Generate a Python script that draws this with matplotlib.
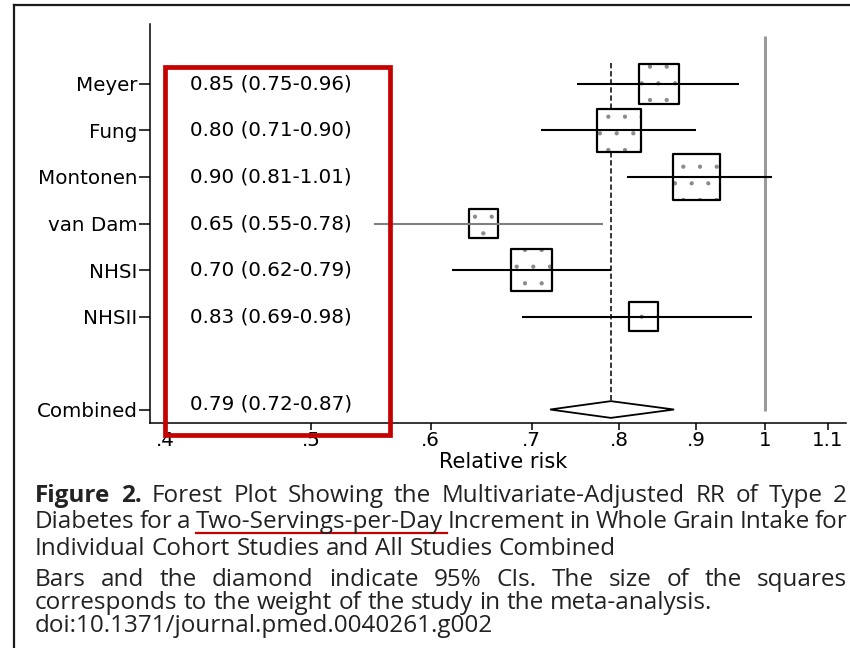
import matplotlib
matplotlib.use("Agg")
import matplotlib.pyplot as plt
from matplotlib.patches import Rectangle, Polygon
from matplotlib.lines import Line2D
from matplotlib.ticker import NullLocator, FixedLocator
import matplotlib.transforms as mtransforms

# ---- data -----------------------------------------------------------------
studies = ["Meyer", "Fung", "Montonen", "van Dam", "NHSI", "NHSII"]
rr = [0.85, 0.80, 0.90, 0.65, 0.70, 0.83]
ci_low = [0.75, 0.71, 0.81, 0.55, 0.62, 0.69]
ci_high = [0.96, 0.90, 1.01, 0.78, 0.79, 0.98]
weights = [17.7, 20.9, 23.9, 9.3, 19.0, 9.3]   # study weight, %

pooled_label = "Combined"
pooled_rr = 0.79
pooled_low = 0.72
pooled_high = 0.87

x_ticks = [0.4, 0.5, 0.6, 0.7, 0.8, 0.9, 1.0, 1.1]
x_tick_labels = [".4", ".5", ".6", ".7", ".8", ".9", "1", "1.1"]
x_label = "Relative risk"

caption_lines = [
    "Figure 2. Forest Plot Showing the Multivariate-Adjusted RR of Type 2",
    "Diabetes for a Two-Servings-per-Day Increment in Whole Grain Intake for",
    "Individual Cohort Studies and All Studies Combined",
    "Bars and the diamond indicate 95% CIs. The size of the squares",
    "corresponds to the weight of the study in the meta-analysis.",
    "doi:10.1371/journal.pmed.0040261.g002",
]
caption_justified = [True, True, False, True, False, False]
bold_words = ["Figure", "2."]
underlined_word = "Two-Servings-per-Day"

# ---- figure ---------------------------------------------------------------
W, H, DPI = 850, 648, 100
plt.rcParams["hatch.linewidth"] = 0.6
fig = plt.figure(figsize=(W / DPI, H / DPI), dpi=DPI)
fig.patch.set_facecolor("white")

def px_x(x):
    return x / W

def px_y(y):
    return 1 - y / H

ax = fig.add_axes([px_x(150), px_y(423), px_x(846) - px_x(150), px_y(24) - px_y(423)])
ax.set_xscale("log")
ax.set_xlim(0.391, 1.131)

rows = list(range(len(studies)))
pooled_row = len(studies) + 1
ax.set_ylim(pooled_row + 0.29, -1.29)

plot_font = "DejaVu Sans"
fs = 14.3

# confidence intervals
ci_colors = ["black", "black", "black", "#808080", "black", "black"]
ax.hlines(rows, ci_low, ci_high, colors=ci_colors, linewidth=1.5, zorder=3)

# weighted squares: stippled fill, then a black outline on top
sizes = [47 * w for w in weights]
ax.scatter(rr, rows, s=sizes, marker="s", facecolor="white",
           edgecolor="#8a8a8a", linewidths=0.0, hatch=".", zorder=2)
ax.scatter(rr, rows, s=sizes, marker="s", facecolor="none",
           edgecolor="black", linewidths=1.6, zorder=2.5)

# pooled diamond
dh = 0.18
diamond = Polygon([(pooled_low, pooled_row), (pooled_rr, pooled_row - dh),
                   (pooled_high, pooled_row), (pooled_rr, pooled_row + dh)],
                  closed=True, facecolor="white", edgecolor="black",
                  linewidth=1.3, zorder=4)
ax.add_patch(diamond)

# reference lines
ax.vlines(pooled_rr, -0.45, pooled_row - dh, colors="black", linewidth=1.1,
          linestyles=(0, (3.5, 1.8)), zorder=1)
ax.vlines(1.0, -1.03, pooled_row + 0.03, colors="#9a9a9a", linewidth=2.2,
          zorder=1)

# estimate text column
blend = mtransforms.blended_transform_factory(ax.transAxes, ax.transData)
for r, v, lo, hi in zip(rows, rr, ci_low, ci_high):
    ax.text(0.0575, r, f"{v:.2f} ({lo:.2f}-{hi:.2f})", transform=blend,
            ha="left", va="center", fontsize=fs, family=plot_font)
ax.text(0.0575, pooled_row - 0.12,
        f"{pooled_rr:.2f} ({pooled_low:.2f}-{pooled_high:.2f})",
        transform=blend, ha="left", va="center", fontsize=fs, family=plot_font)

# axes styling
for side in ("top", "right"):
    ax.spines[side].set_visible(False)
for side in ("left", "bottom"):
    ax.spines[side].set_linewidth(1.1)
ax.xaxis.set_major_locator(FixedLocator(x_ticks))
ax.xaxis.set_minor_locator(NullLocator())
ax.set_xticklabels(x_tick_labels, fontsize=fs, family=plot_font)
ax.set_yticks(rows + [pooled_row])
ax.set_yticklabels(studies + [pooled_label], fontsize=fs, family=plot_font)
ax.tick_params(axis="y", length=8, width=1.1, pad=1)
ax.tick_params(axis="x", length=5, width=1.1, pad=1)
ax.set_xlabel(x_label, fontsize=15, family=plot_font)
ax.xaxis.set_label_coords((503 - 150) / 696, (423 - 462) / 399)
ax.xaxis.label.set_va("center")

# highlight box around the estimate column
fig.add_artist(Rectangle((px_x(165), px_y(435)), px_x(390) - px_x(165),
                         px_y(67) - px_y(435), transform=fig.transFigure,
                         fill=False, edgecolor="#c40000", linewidth=3.4,
                         zorder=10))

# page frame
fig.add_artist(Line2D([px_x(14), px_x(14)], [0, px_y(5)], color="#1a1a1a",
                      linewidth=1.6, transform=fig.transFigure))
fig.add_artist(Line2D([px_x(14), 1], [px_y(5), px_y(5)], color="#1a1a1a",
                      linewidth=1.6, transform=fig.transFigure))

# caption, word by word so lines can be justified
cap_font = "Open Sans"
cap_fs = 17.5
cap_left, cap_right = 35, 847
baselines = [502, 528, 555, 586, 609, 632]

renderer = fig.canvas.get_renderer()

def text_width(s, weight="normal"):
    t = fig.text(0, 0, s, fontsize=cap_fs, family=cap_font, fontweight=weight)
    w = t.get_window_extent(renderer).width
    t.remove()
    return w

space_w = text_width("x x") - text_width("xx")

for i, (line, justify, base) in enumerate(zip(caption_lines, caption_justified, baselines)):
    words = line.split(" ")
    wts = ["bold" if (i == 0 and w in bold_words) else "normal" for w in words]
    widths = [text_width(w, wt) for w, wt in zip(words, wts)]
    if justify and len(words) > 1:
        gap = (cap_right - cap_left - sum(widths)) / (len(words) - 1)
    else:
        gap = space_w
    x = cap_left
    for w, wt, wd in zip(words, wts, widths):
        fig.text(px_x(x), px_y(base), w, fontsize=cap_fs, family=cap_font,
                 fontweight=wt, ha="left", va="baseline", color="#222222")
        if w == underlined_word:
            fig.add_artist(Line2D([px_x(x), px_x(x + wd + gap - 1)],
                                  [px_y(533), px_y(533)], color="#c40000",
                                  linewidth=1.6, transform=fig.transFigure))
        x += wd + gap

fig.savefig("out.png", dpi=DPI, facecolor="white")
